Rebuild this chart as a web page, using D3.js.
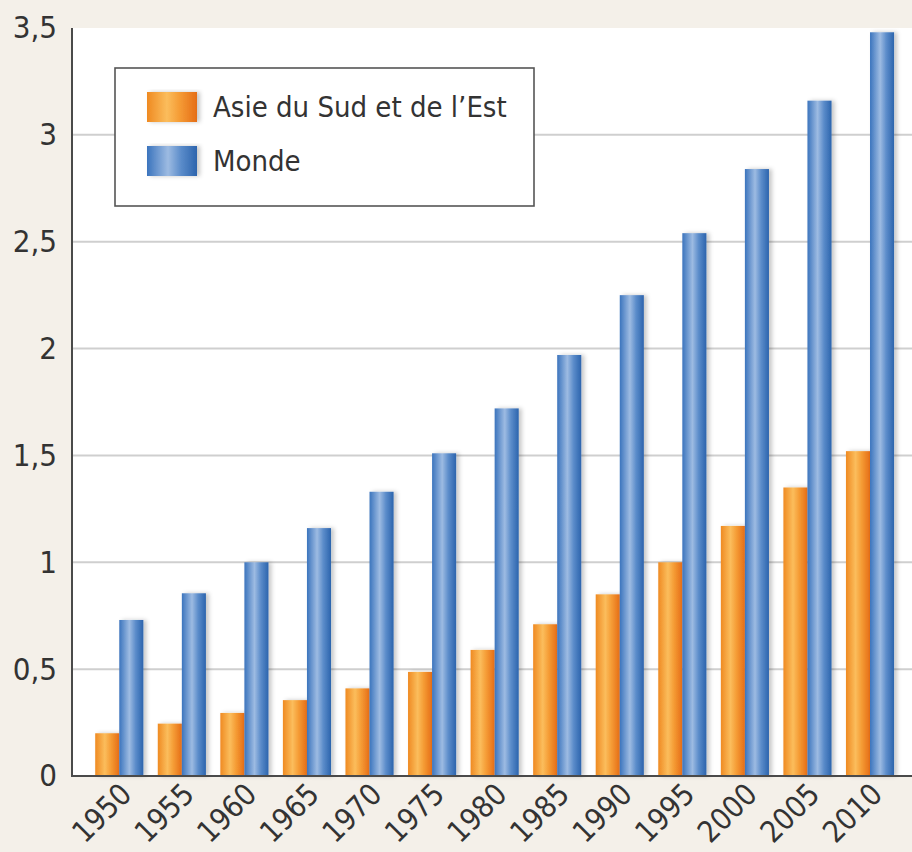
<!DOCTYPE html>
<html>
<head>
<meta charset="utf-8">
<script src="https://cdn.jsdelivr.net/npm/d3@7"></script>
<style>
  html, body { margin: 0; padding: 0; background: #f4f0e9; }
  svg { display: block; }
  text { font-family: "Liberation Sans Narrow", "DejaVu Sans Condensed", "Roboto Condensed", sans-serif; fill: #333; }
</style>
</head>
<body>
<svg id="chart" width="912" height="852"></svg>
<script>
const years = ["1950","1955","1960","1965","1970","1975","1980","1985","1990","1995","2000","2005","2010"];
const asie  = [0.20, 0.245, 0.295, 0.355, 0.41, 0.487, 0.59, 0.71, 0.85, 1.0, 1.17, 1.35, 1.52];
const monde = [0.73, 0.855, 1.0, 1.16, 1.33, 1.51, 1.72, 1.97, 2.25, 2.54, 2.84, 3.16, 3.48];
const seriesNames = ["Asie du Sud et de l’Est", "Monde"];
const yTicks = [0, 0.5, 1, 1.5, 2, 2.5, 3, 3.5];

const svg = d3.select("#chart");
const plot = {left: 72, right: 912, top: 28, bottom: 776};

const defs = svg.append("defs");
function grad(id, stops) {
  const g = defs.append("linearGradient").attr("id", id).attr("x1", "0%").attr("x2", "100%").attr("y1", "0%").attr("y2", "0%");
  stops.forEach(([o, c]) => g.append("stop").attr("offset", o).attr("stop-color", c));
}
grad("gOrange", [["0%", "#ef8a22"], ["40%", "#fbbd5c"], ["65%", "#f59c35"], ["100%", "#e56d17"]]);
grad("gBlue", [["0%", "#3b74bd"], ["42%", "#9dbbe2"], ["68%", "#5b8cca"], ["100%", "#2c64ad"]]);
const f = defs.append("filter").attr("id", "shadow").attr("x", "-30%").attr("y", "-10%").attr("width", "170%").attr("height", "130%");
f.append("feDropShadow").attr("dx", 3).attr("dy", 0).attr("stdDeviation", 2).attr("flood-color", "#000").attr("flood-opacity", 0.22);

svg.append("rect").attr("x", plot.left).attr("y", plot.top)
  .attr("width", plot.right - plot.left).attr("height", plot.bottom - plot.top).attr("fill", "#ffffff");

const x = d3.scaleBand().domain(years).range([88, 901.3]).paddingInner(0).paddingOuter(0);
const xs = d3.scaleBand().domain(seriesNames).range([0, x.bandwidth()]).paddingInner(0).paddingOuter(0.30);
const y = d3.scaleLinear().domain([0, 3.5]).range([plot.bottom, plot.top]);

svg.append("g").selectAll("line").data(yTicks.filter(t => t > 0 && t < 3.5)).join("line")
  .attr("x1", plot.left).attr("x2", plot.right)
  .attr("y1", d => y(d)).attr("y2", d => y(d))
  .attr("stroke", "#cfcfcf").attr("stroke-width", 2);

const yAxis = d3.axisLeft(y).tickValues(yTicks).tickSize(0).tickPadding(15)
  .tickFormat(d => String(d).replace(".", ","));
const gy = svg.append("g").attr("transform", `translate(${plot.left},0)`).call(yAxis);
gy.select(".domain").remove();
gy.selectAll("text").style("font-size", "31px").attr("fill", "#333")
  .style("font-family", '"Liberation Sans Narrow", "DejaVu Sans Condensed", sans-serif');

const data = years.map((yr, i) => ({year: yr, vals: [asie[i], monde[i]]}));
const groups = svg.append("g").selectAll("g").data(data).join("g")
  .attr("transform", d => `translate(${x(d.year)},0)`);
groups.selectAll("rect").data(d => d.vals.map((v, j) => ({name: seriesNames[j], v, j}))).join("rect")
  .attr("x", d => xs(d.name)).attr("width", xs.bandwidth())
  .attr("y", d => y(d.v)).attr("height", d => y(0) - y(d.v))
  .attr("fill", d => d.j === 0 ? "url(#gOrange)" : "url(#gBlue)")
  .attr("filter", "url(#shadow)");

svg.append("line").attr("x1", plot.left).attr("x2", plot.left).attr("y1", plot.top).attr("y2", plot.bottom + 1)
  .attr("stroke", "#4a4a4a").attr("stroke-width", 2);
svg.append("line").attr("x1", plot.left - 1).attr("x2", plot.right).attr("y1", plot.bottom).attr("y2", plot.bottom)
  .attr("stroke", "#4a4a4a").attr("stroke-width", 2);

const xAxis = d3.axisBottom(x).tickSize(0).tickPadding(0);
const gx = svg.append("g").attr("transform", `translate(0,${plot.bottom})`).call(xAxis);
gx.select(".domain").remove();
gx.selectAll("text")
  .attr("text-anchor", "end")
  .attr("dy", 0).attr("y", 0)
  .attr("transform", "translate(14,20) rotate(-45)")
  .style("font-size", "30px").attr("fill", "#333")
  .style("font-family", '"Liberation Sans Narrow", "DejaVu Sans Condensed", sans-serif');

const lg = svg.append("g").attr("transform", "translate(115,68)");
lg.append("rect").attr("x", 0).attr("y", 0).attr("width", 419).attr("height", 138)
  .attr("fill", "#fff").attr("stroke", "#555").attr("stroke-width", 1.6);
seriesNames.forEach((name, i) => {
  const row = lg.append("g").attr("transform", `translate(32,${24 + i * 54})`);
  row.append("rect").attr("width", 50).attr("height", 30)
    .attr("fill", i === 0 ? "url(#gOrange)" : "url(#gBlue)").attr("filter", "url(#shadow)");
  row.append("text").attr("x", 66).attr("y", 15).attr("dy", "0.36em")
    .style("font-size", "29px").text(name);
});
</script>
</body>
</html>
